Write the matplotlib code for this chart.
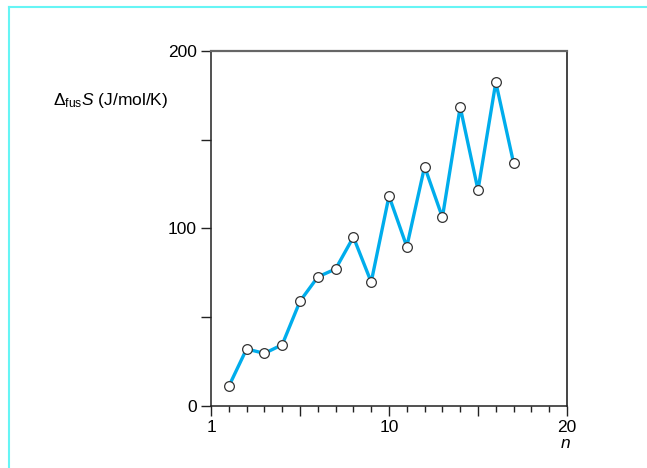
import matplotlib.pyplot as plt
from matplotlib.lines import Line2D

plt.rcParams['font.family'] = ['Liberation Sans', 'DejaVu Sans']
plt.rcParams['mathtext.fontset'] = 'custom'
plt.rcParams['mathtext.rm'] = 'Liberation Sans'
plt.rcParams['mathtext.it'] = 'Liberation Sans:italic'

# n (tick index along the axis) et entropie de fusion
n = list(range(1, 18))
s_fus = [10.9, 32.0, 29.5, 34.4, 58.9, 72.6, 77.1, 95.1, 69.7,
         118.2, 89.7, 134.8, 106.2, 168.4, 121.6, 182.4, 136.8]

xtick_pos = [0, 5, 10, 15, 20]
xtick_lab = ['1', '', '10', '', '20']
ytick_pos = [0, 50, 100, 150, 200]
ytick_lab = ['0', '', '100', '', '200']

fig = plt.figure(figsize=(6.47, 4.68), dpi=100)
ax = fig.add_axes([211/647, 1 - 405.7/468, (567 - 211)/647, (405.7 - 51)/468])

ax.plot(n, s_fus, '-', color='#00adec', lw=2.4, zorder=2)
ax.plot(n, s_fus, 'o', ms=7, mfc='white', mec='#333333', mew=0.9, zorder=3)

ax.set_xlim(0, 20)
ax.set_ylim(0, 200)
ax.set_xticks(xtick_pos)
ax.set_xticklabels(xtick_lab)
ax.set_xticks([i for i in range(21) if i % 5], minor=True)
ax.set_yticks(ytick_pos)
ax.set_yticklabels(ytick_lab)

ax.tick_params(axis='both', which='major', direction='out', length=7, width=1,
               labelsize=12.5, color='#222222')
ax.tick_params(axis='x', which='minor', direction='out', length=4, width=1,
               color='#222222')
ax.tick_params(axis='x', pad=3)
ax.tick_params(axis='y', pad=3)

for side in ['left', 'bottom']:
    ax.spines[side].set_color('#222222')
    ax.spines[side].set_linewidth(1.1)
ax.spines['top'].set_color('#666666')
ax.spines['top'].set_linewidth(1.6)
ax.spines['right'].set_color('#444444')
ax.spines['right'].set_linewidth(1.4)

fig.text(53/647, 1 - 100/468, 'Δ$_{\\rm fus}$$\\mathit{S}$ (J/mol/K)',
         fontsize=12.5, va='center', ha='left')
fig.text(565/647, 1 - 443/468, r'$\mathit{n}$', fontsize=12.5, va='center',
         ha='center')

# cadre cyan
fig.add_artist(Line2D([8.5/647, 8.5/647], [0, 1 - 7/468], color='#66f5f5', lw=1.5))
fig.add_artist(Line2D([8.5/647, 1], [1 - 7/468, 1 - 7/468], color='#66f5f5', lw=1.5))

fig.savefig('out.png', dpi=100)
